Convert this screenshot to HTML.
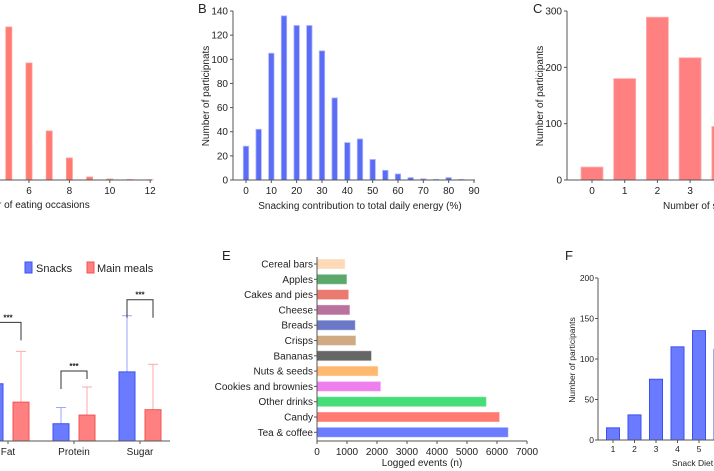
<!DOCTYPE html>
<html><head><meta charset="utf-8">
<style>
html,body{margin:0;padding:0;background:#fff;}
svg{display:block;font-family:"Liberation Sans",Arial,sans-serif;}
text{fill:#222;}
</style></head>
<body>
<svg id="fig" width="714" height="471" viewBox="0 0 714 471">
<g id="gA"></g>
<g id="gB"></g>
<g id="gC"></g>
<g id="gD"></g>
<g id="gE"></g>
<g id="gF"></g>
</svg>
<script>
// Panel A
const aCats = [5,6,7,8,9,10,11,12];
const aVals = [153,117,49,22,3,1,0.5,0.3];
const aTicks = [6,8,10,12];
// Panel B
const bCats = [0,5,10,15,20,25,30,35,40,45,50,55,60,65,70,75,80,85];
const bVals = [28,42,105,136,128,128,107,68,31,34,17,8,5,2,1,0.5,2,0.5];
const bYTicks = [0,20,40,60,80,100,120,140];
const bXTicks = [0,10,20,30,40,50,60,70,80,90];
// Panel C
const cCats = [0,1,2,3,4];
const cVals = [23,180,289,217,95];
const cYTicks = [0,100,200,300];
// Panel D
const dCats = ["Fat","Protein","Sugar"];
const dSnack = [53,16,64];
const dSnackErr = [95,31,116];
const dMeal = [36,24,29];
const dMealErr = [83,50,71];
// Panel E
const eCats = ["Cereal bars","Apples","Cakes and pies","Cheese","Breads","Crisps","Bananas","Nuts & seeds","Cookies and brownies","Other drinks","Candy","Tea & coffee"];
const eVals = [920,980,1040,1080,1260,1280,1800,2020,2110,5630,6070,6360];
const eColors = ["#fdd9b5","#5aa96b","#ea7a70","#b9719e","#6a78c6","#cfaa83","#666666","#ffb870","#ee80ee","#44dd77","#ff7b72","#6a7bff"];
const eTicks = [0,1000,2000,3000,4000,5000,6000,7000];
// Panel F
const fCats = [1,2,3,4,5,6];
const fVals = [15,31,75,115,135,112];
const fYTicks = [0,50,100,150,200];

const NS="http://www.w3.org/2000/svg";
function mk(parent,tag,attrs,txt){const e=document.createElementNS(NS,tag);for(const k in attrs)e.setAttribute(k,attrs[k]);if(txt!==undefined)e.textContent=txt;parent.appendChild(e);return e;}
const AX="#555";

// ---- A ----
(function(){
const g=document.getElementById('gA');
const x=v=>29+(v-6)*20.2, y=v=>180-v*1.0;
aCats.forEach((c,i)=>{const r=mk(g,'rect',{x:x(c)-3,y:y(aVals[i]),width:6,height:180-y(aVals[i]),fill:'#ff7b72',stroke:'#ff9a92','stroke-width':0.8});

});
mk(g,'line',{x1:0,y1:180,x2:152,y2:180,stroke:AX,'stroke-width':1});
aTicks.forEach(t=>{mk(g,'line',{x1:x(t),y1:180,x2:x(t),y2:183,stroke:AX});const tx=mk(g,'text',{x:x(t),y:194,'font-size':10,'text-anchor':'middle'},t);

});
const tt=mk(g,'text',{x:-2,y:208,'font-size':10},'r of eating occasions');


})();

// ---- B ----
(function(){
const g=document.getElementById('gB');
const x=v=>246+v*2.533, y=v=>180-v*1.207;
bCats.forEach((c,i)=>{const r=mk(g,'rect',{x:x(c)-2.7,y:y(bVals[i]),width:5.4,height:180-y(bVals[i]),fill:'#5b6cf5',stroke:'#aab4ff','stroke-width':0.8});

});
mk(g,'line',{x1:233,y1:11,x2:233,y2:180,stroke:AX});
mk(g,'line',{x1:233,y1:180,x2:475,y2:180,stroke:AX});
bYTicks.forEach(t=>{mk(g,'line',{x1:230,y1:y(t),x2:233,y2:y(t),stroke:AX});const tx=mk(g,'text',{x:228,y:y(t)+3.5,'font-size':10,'text-anchor':'end'},t);

});
bXTicks.forEach(t=>{mk(g,'line',{x1:x(t),y1:180,x2:x(t),y2:183,stroke:AX});const tx=mk(g,'text',{x:x(t),y:194,'font-size':10,'text-anchor':'middle'},t);

});
let t=mk(g,'text',{x:360,y:209,'font-size':10,'text-anchor':'middle'},'Snacking contribution to total daily energy (%)');

t=mk(g,'text',{x:0,y:0,'font-size':10,'text-anchor':'middle',transform:'translate(209,96) rotate(-90)'},'Number of participnats');

t=mk(g,'text',{x:198,y:13,'font-size':13},'B');

})();

// ---- C ----
(function(){
const g=document.getElementById('gC');
const x=v=>592+v*32.7, y=v=>180-v*(169/300);
cCats.forEach((c,i)=>{const r=mk(g,'rect',{x:x(c)-11,y:y(cVals[i]),width:22,height:180-y(cVals[i]),fill:'#ff8080',stroke:'#ffb0b0','stroke-width':0.8});

});
mk(g,'line',{x1:567,y1:11,x2:567,y2:180,stroke:AX});
mk(g,'line',{x1:567,y1:180,x2:714,y2:180,stroke:AX});
cYTicks.forEach(t=>{mk(g,'line',{x1:564,y1:y(t),x2:567,y2:y(t),stroke:AX});const tx=mk(g,'text',{x:562,y:y(t)+3.5,'font-size':10,'text-anchor':'end'},t);

});
cCats.forEach(t=>{mk(g,'line',{x1:x(t),y1:180,x2:x(t),y2:183,stroke:AX});const tx=mk(g,'text',{x:x(t),y:194,'font-size':10,'text-anchor':'middle'},t);

});
let t=mk(g,'text',{x:663,y:209,'font-size':10},'Number of snacks per day');

t=mk(g,'text',{x:0,y:0,'font-size':10,'text-anchor':'middle',transform:'translate(543,96) rotate(-90)'},'Number of participants');

t=mk(g,'text',{x:533,y:13,'font-size':13},'C');

})();

// ---- D ----
(function(){
const g=document.getElementById('gD');
const base=441, k=1.08;
const y=v=>base-v*k;
const cx=[8,74,140];
dCats.forEach((c,i)=>{
 const bx=cx[i]-21, rx=cx[i]+5;
 mk(g,'line',{x1:bx+8,y1:y(dSnack[i]),x2:bx+8,y2:y(dSnackErr[i]),stroke:'#9aa6ff'});
 mk(g,'line',{x1:bx+3,y1:y(dSnackErr[i]),x2:bx+13,y2:y(dSnackErr[i]),stroke:'#9aa6ff'});
 mk(g,'line',{x1:rx+8,y1:y(dMeal[i]),x2:rx+8,y2:y(dMealErr[i]),stroke:'#ffaaaa'});
 mk(g,'line',{x1:rx+3,y1:y(dMealErr[i]),x2:rx+13,y2:y(dMealErr[i]),stroke:'#ffaaaa'});
 let r=mk(g,'rect',{x:bx,y:y(dSnack[i]),width:16,height:base-y(dSnack[i]),fill:'#6a7bff',stroke:'#3d50f0','stroke-width':1});
 
 
 r=mk(g,'rect',{x:rx,y:y(dMeal[i]),width:16,height:base-y(dMeal[i]),fill:'#ff8080',stroke:'#f05555','stroke-width':1});
 
 
 mk(g,'line',{x1:cx[i],y1:base,x2:cx[i],y2:base+3,stroke:AX});
 const tx=mk(g,'text',{x:cx[i],y:455,'font-size':10,'text-anchor':'middle'},c);
 
 
 // bracket
 const top=Math.min(y(dSnackErr[i]),y(dMealErr[i]))-16;
 const l=bx+8, rr=rx+8;
 mk(g,'path',{d:`M${l},${top+18} V${top} H${rr} V${top+ (i==1?8:18)}`,fill:'none',stroke:'#333','stroke-width':1});
 const st=mk(g,'text',{x:(l+rr)/2,y:top-2,'font-size':8,'text-anchor':'middle','font-weight':'bold'},'***');
 
 
});
mk(g,'line',{x1:0,y1:base,x2:170,y2:base,stroke:AX});
mk(g,'rect',{x:25,y:262,width:7,height:11,fill:'#6a7bff',stroke:'#3d50f0'});
let t=mk(g,'text',{x:36,y:272,'font-size':11},'Snacks');

mk(g,'rect',{x:87,y:262,width:7,height:11,fill:'#ff8080',stroke:'#f05555'});
t=mk(g,'text',{x:97,y:272,'font-size':11},'Main meals');

})();

// ---- E ----
(function(){
const g=document.getElementById('gE');
const x0=317, x=v=>x0+v*0.03;
const y=i=>264+i*15.3;
eCats.forEach((c,i)=>{
 const r=mk(g,'rect',{x:x0,y:y(i)-4.5,width:x(eVals[i])-x0,height:9,fill:eColors[i],stroke:eColors[i],'stroke-opacity':0.6});
 
 
 mk(g,'line',{x1:x0-3,y1:y(i),x2:x0,y2:y(i),stroke:AX});
 const tx=mk(g,'text',{x:x0-4,y:y(i)+3.5,'font-size':10,'text-anchor':'end'},c);
 
 
});
mk(g,'line',{x1:x0,y1:257,x2:x0,y2:441,stroke:AX});
mk(g,'line',{x1:x0,y1:441,x2:x(7000),y2:441,stroke:AX});
eTicks.forEach(t=>{mk(g,'line',{x1:x(t),y1:441,x2:x(t),y2:444,stroke:AX});const tx=mk(g,'text',{x:x(t),y:455,'font-size':10,'text-anchor':'middle'},t);

});
let t=mk(g,'text',{x:422,y:466,'font-size':10,'text-anchor':'middle'},'Logged events (n)');

t=mk(g,'text',{x:222,y:260,'font-size':13},'E');

})();

// ---- F ----
(function(){
const g=document.getElementById('gF');
const x=v=>613+(v-1)*21.5, y=v=>440-v*0.81;
fCats.forEach((c,i)=>{const r=mk(g,'rect',{x:x(c)-6.5,y:y(fVals[i]),width:13,height:440-y(fVals[i]),fill:'#6a7bff',stroke:'#3d50f0','stroke-width':1});

});
mk(g,'line',{x1:598,y1:278,x2:598,y2:440,stroke:AX});
mk(g,'line',{x1:598,y1:440,x2:714,y2:440,stroke:AX});
fYTicks.forEach(t=>{mk(g,'line',{x1:595,y1:y(t),x2:598,y2:y(t),stroke:AX});const tx=mk(g,'text',{x:594,y:y(t)+3,'font-size':8.5,'text-anchor':'end'},t);

});
fCats.forEach(t=>{mk(g,'line',{x1:x(t),y1:440,x2:x(t),y2:443,stroke:AX});const tx=mk(g,'text',{x:x(t),y:452,'font-size':8.5,'text-anchor':'middle'},t);

});
let t=mk(g,'text',{x:672,y:466,'font-size':8.5},'Snack Diet Quality Score');

t=mk(g,'text',{x:0,y:0,'font-size':8.5,'text-anchor':'middle',transform:'translate(575,360) rotate(-90)'},'Number of participants');

t=mk(g,'text',{x:565,y:260,'font-size':13},'F');

})();
</script>
</body></html>
